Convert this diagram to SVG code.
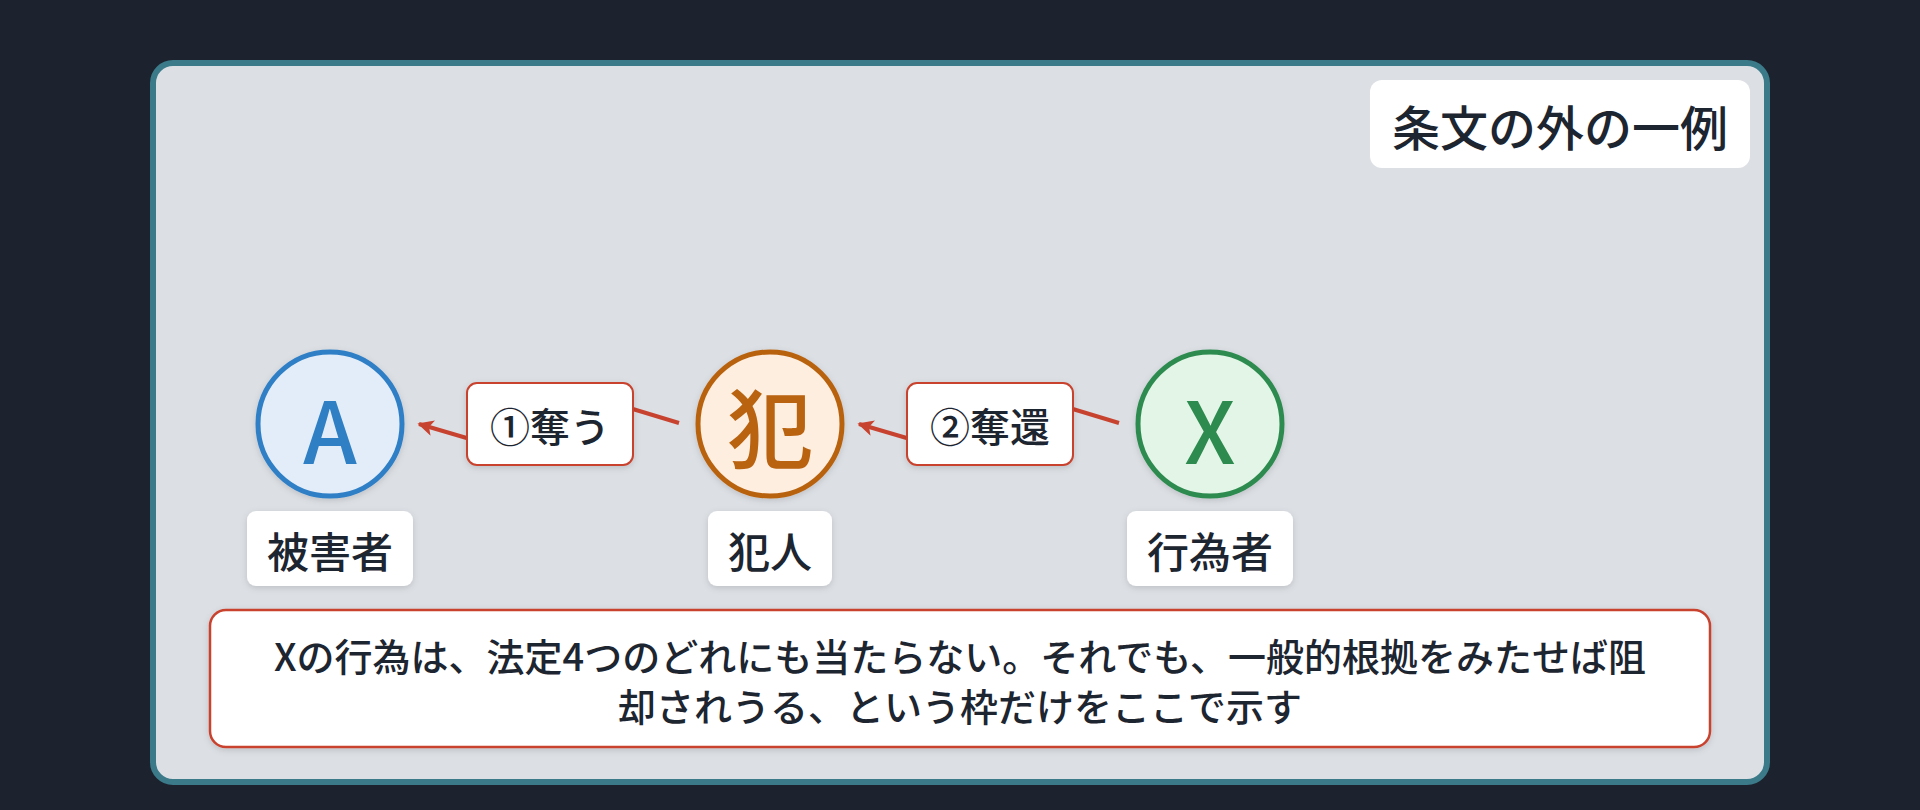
<svg xmlns="http://www.w3.org/2000/svg" width="1920" height="810" viewBox="0 0 1920 810">
<style>
text{font-family:"Noto Sans CJK JP","Noto Sans",sans-serif;fill:#1c2530;text-anchor:middle;dominant-baseline:central;font-weight:500}
.box{fill:#ffffff}
.lbl{font-size:42px}
.elbl{font-size:40px}
.ebox{fill:#ffffff;stroke:#c8432f;stroke-width:2}
.edge{fill:none;stroke:#c8432f;stroke-width:4;stroke-linejoin:round}
.big{font-size:86px;font-weight:500}
</style>
<defs>
<filter id="sh" x="-20%" y="-20%" width="140%" height="150%">
<feDropShadow dx="0" dy="2" stdDeviation="3" flood-color="#000" flood-opacity="0.14"/>
</filter>
<marker id="ah" viewBox="0 0 10 10" refX="9" refY="5" markerWidth="4.2" markerHeight="4" markerUnits="strokeWidth" orient="auto">
<path d="M0,0 L10,5 L0,10 L2.5,5 Z" fill="#c8432f"/>
</marker>
</defs>
<rect width="1920" height="810" fill="#1c232e"/>
<rect id="frame" x="153" y="63" width="1614" height="719" rx="20" fill="#dcdfe4" stroke="#3b7a89" stroke-width="6"/>

<g id="title">
<rect class="box" x="1370" y="80" width="380" height="88" rx="12"/>
<text x="1560" y="125" style="font-size:48px">条文の外の一例</text>
</g>

<g id="connectors">
<path class="edge" d="M679,423 L613,403 L487,444 L419,424" marker-end="url(#ah)"/>
<path class="edge" d="M1119,423 L1053,403 L927,444 L859,424" marker-end="url(#ah)"/>
</g>

<g id="edge-label-1">
<rect class="ebox" x="467" y="383" width="166" height="82" rx="10" filter="url(#sh)"/>
<text class="elbl" x="550" y="425">①奪う</text>
</g>
<g id="edge-label-2">
<rect class="ebox" x="907" y="383" width="166" height="82" rx="10" filter="url(#sh)"/>
<text class="elbl" x="990" y="425">②奪還</text>
</g>

<g id="node-A">
<circle cx="330" cy="424" r="72" fill="#e3edf9" stroke="#2f7fc5" stroke-width="5" filter="url(#sh)"/>
<text class="big" x="330" y="426" style="fill:#2f7fc5">A</text>
<rect class="box" x="247" y="511" width="166" height="75" rx="9" filter="url(#sh)"/>
<text class="lbl" x="330" y="549">被害者</text>
</g>

<g id="node-han">
<circle cx="770" cy="424" r="72" fill="#fdeee0" stroke="#b9620f" stroke-width="5" filter="url(#sh)"/>
<text class="big" x="770" y="424" style="fill:#b9620f">犯</text>
<rect class="box" x="708" y="511" width="124" height="75" rx="9" filter="url(#sh)"/>
<text class="lbl" x="770" y="549">犯人</text>
</g>

<g id="node-X">
<circle cx="1210" cy="424" r="72" fill="#e2f5e6" stroke="#2e8b4f" stroke-width="5" filter="url(#sh)"/>
<text class="big" x="1210" y="426" style="fill:#2e8b4f">X</text>
<rect class="box" x="1127" y="511" width="166" height="75" rx="9" filter="url(#sh)"/>
<text class="lbl" x="1210" y="549">行為者</text>
</g>

<g id="note">
<rect x="210" y="610" width="1500" height="137" rx="16" fill="#ffffff" stroke="#c8432f" stroke-width="2.5" filter="url(#sh)"/>
<text x="960" y="654" style="font-size:38px">Xの行為は、法定4つのどれにも当たらない。それでも、一般的根拠をみたせば阻</text>
<text x="960" y="704" style="font-size:38px">却されうる、という枠だけをここで示す</text>
</g>
</svg>
